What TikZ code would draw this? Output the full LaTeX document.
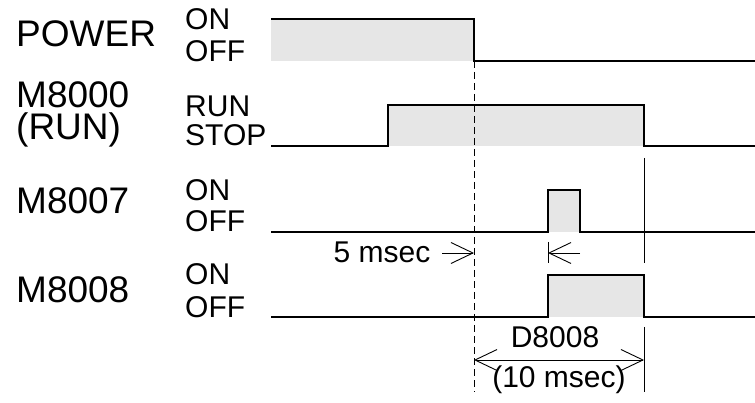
\documentclass[tikz,border=0pt]{standalone}
\usepackage{fontspec}
\setmainfont{Liberation Sans}
\usetikzlibrary{arrows.meta}
\definecolor{pulsegray}{HTML}{E6E6E6}

\begin{document}
\begin{tikzpicture}[x=1pt,y=-1pt,big/.style={anchor=base west,inner sep=0pt,font=\fontsize{37}{38}\selectfont},lvl/.style={anchor=base west,inner sep=0pt,font=\fontsize{30}{30}\selectfont},note/.style={anchor=base,inner sep=0pt,font=\fontsize{30}{30}\selectfont},wire/.style={draw=black,line width=1.3pt},guide/.style={draw=black,line width=0.9pt},dim/.style={draw=black,line width=0.9pt,-{Straight Barb[length=22pt,width=21pt]}}]
\useasboundingbox (0,0) rectangle (755,403);
\node[big] (power) at (16,47) {POWER};
\node[lvl] (poweron) at (185,30) {ON};
\node[lvl] (poweroff) at (185,62) {OFF};
\node[big,text depth=0pt] (run) at (16,108) {M8000};
\node[big] (runsub) at (16,140) {(RUN)};
\node[lvl] (runon) at (185,117) {RUN};
\node[lvl] (runoff) at (185,146) {STOP};
\node[big] (batlow) at (16,214) {M8007};
\node[lvl] (batlowon) at (185,201) {ON};
\node[lvl] (batlowoff) at (185,232) {OFF};
\node[big] (pwrdown) at (16,303) {M8008};
\node[lvl] (pwrdownon) at (185,285) {ON};
\node[lvl] (pwrdownoff) at (185,317) {OFF};
\fill[pulsegray] (271,19) rectangle (474,61);
\fill[pulsegray] (388,105) rectangle (644,146);
\fill[pulsegray] (548,190) rectangle (580,232);
\fill[pulsegray] (548,275) rectangle (644,317);
\draw[wire] (271,19) -- (474,19) -- (474,61) -- (755,61);
\draw[wire] (271,146) -- (388,146) -- (388,105) -- (644,105) -- (644,146) -- (755,146);
\draw[wire] (271,232) -- (548,232) -- (548,190) -- (580,190) -- (580,232) -- (755,232);
\draw[wire] (271,317) -- (548,317) -- (548,275) -- (644,275) -- (644,317) -- (755,317);
\draw[guide,dash pattern=on 7pt off 4pt] (474,61) -- (474,392);
\draw[guide] (644,158) -- (644,263);
\draw[guide] (644,327) -- (644,392);
\draw[guide] (548,242) -- (548,263);
\coordinate (fivefrom) at (442,253);
\coordinate (fiveto) at (474,253);
\coordinate (backfrom) at (580,253);
\coordinate (backto) at (548,253);
\coordinate (spanleft) at (474,360);
\coordinate (spanright) at (644,360);
\node[note] (fivems) at (382,263) {5 msec};
\draw[dim] (fivefrom) -- (fiveto);
\draw[dim] (backfrom) -- (backto);
\draw[dim,{Straight Barb[length=22pt,width=21pt]}-{Straight Barb[length=22pt,width=21pt]}] (spanleft) -- (spanright);
\node[note] (dreg) at (555,348) {D8008};
\node[note] (tenms) at (559,387) {(10 msec)};
\end{tikzpicture}
\end{document}
